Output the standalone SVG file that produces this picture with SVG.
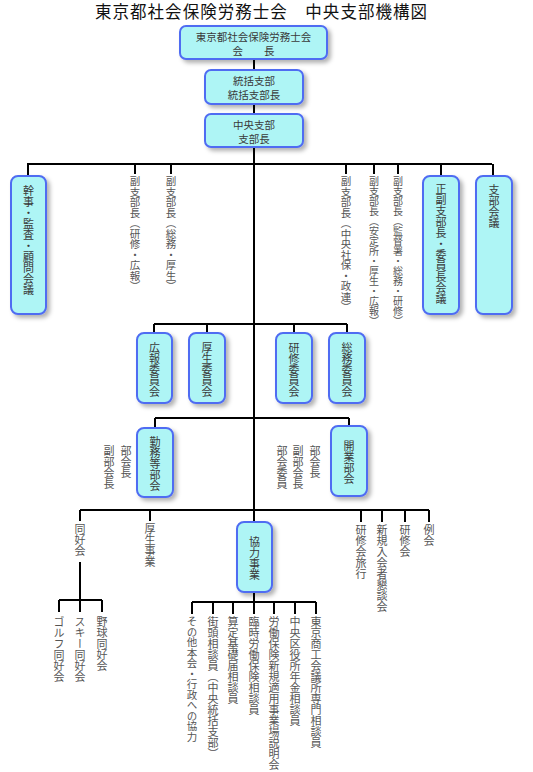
<svg xmlns="http://www.w3.org/2000/svg" width="533" height="772" viewBox="0 0 533 772">
<defs>
<filter id="sh" x="-30%" y="-30%" width="170%" height="170%">
<feDropShadow dx="3" dy="3" stdDeviation="2" flood-color="#000" flood-opacity="0.3"/>
</filter>
<style>
.box{fill:#aef5f5;stroke:#4f6cf2;stroke-width:2;filter:url(#sh)}
.bt{font-family:"Noto Sans CJK JP","Noto Sans CJK SC",sans-serif;font-size:10.5px;fill:#3a3a3a}
.ht{text-anchor:middle}
.vt{writing-mode:vertical-rl;font-family:"Noto Sans CJK JP","Noto Sans CJK SC",sans-serif;font-size:11px;fill:#3a3a3a}
.lb{fill:#555}
.sm{font-size:10.5px}
.xs{font-size:10px}
.ln{stroke:#000;stroke-width:2;fill:none}
.title{font-family:"Noto Sans CJK JP","Noto Sans CJK SC",sans-serif;font-size:16.5px;fill:#111}
</style>
</defs>
<rect width="533" height="772" fill="#fff"/>
<text class="title" x="95" y="18" textLength="332" lengthAdjust="spacing">東京都社会保険労務士会　中央支部機構図</text>

<g id="connectors">
<path class="ln" d="M254 59V70M254 104V114M254 147V522"/>
<path class="ln" d="M27 164H492M28 164V176M135 164V174M171 164V174M346 164V174M374 164V174M398 164V174M441 164V176M493 164V176"/>
<path class="ln" d="M154 324H347M154 324V333M207 324V333M294 324V333M347 324V333"/>
<path class="ln" d="M155 418H349M155 418V428M349 418V426"/>
<path class="ln" d="M80 510H429M80 510V521M150 510V521M361 510V522M382 510V522M405 510V522M429 510V522"/>
<path class="ln" d="M80 562V600M59 600H102M59 600V612M80 600V612M102 600V612"/>
<path class="ln" d="M254 592V602M192 602H316M192 602V614M213 602V614M233 602V614M254 602V614M274 602V614M295 602V614M316 602V614"/>
</g>

<g id="n-kaicho">
<rect class="box" x="180" y="26" width="147" height="33" rx="6"/>
<text class="bt ht" x="253.5" y="40.5">東京都社会保険労務士会</text>
<text class="bt ht" x="253.5" y="54.5" xml:space="preserve">会　　長</text>
</g>
<g id="n-tokatsu">
<rect class="box" x="205" y="70" width="98" height="34" rx="6"/>
<text class="bt ht" x="254" y="84.5">統括支部</text>
<text class="bt ht" x="254" y="98.5">統括支部長</text>
</g>
<g id="n-chuo">
<rect class="box" x="205" y="114" width="98" height="33" rx="6"/>
<text class="bt ht" x="254" y="128.5">中央支部</text>
<text class="bt ht" x="254" y="142.5">支部長</text>
</g>

<g id="n-kanji">
<rect class="box" x="11" y="176" width="35" height="138" rx="7"/>
<text class="vt" x="28.5" y="185">幹事・監査・顧問会議</text>
</g>
<g id="l-fuku1"><text class="vt lb sm" x="135" y="176">副支部長（研修・広報）</text></g>
<g id="l-fuku2"><text class="vt lb sm" x="171" y="176">副支部長（総務・厚生）</text></g>
<g id="l-fuku3"><text class="vt lb sm" x="346" y="176">副支部長（中央社保・政連）</text></g>
<g id="l-fuku4"><text class="vt lb xs" x="374" y="176">副支部長（安定所・厚生・広報）</text></g>
<g id="l-fuku5"><text class="vt lb xs" x="398" y="176">副支部長（監督署・総務・研修）</text></g>
<g id="n-seifuku">
<rect class="box" x="423" y="176" width="36" height="138" rx="7"/>
<text class="vt" x="441" y="183">正副支部長・委員長会議</text>
</g>
<g id="n-shibukaigi">
<rect class="box" x="476" y="176" width="36" height="138" rx="7"/>
<text class="vt" x="494" y="184">支部会議</text>
</g>

<g id="n-koho">
<rect class="box" x="137" y="333" width="35" height="70" rx="7"/>
<text class="vt" x="154.5" y="342">広報委員会</text>
</g>
<g id="n-kosei">
<rect class="box" x="189" y="333" width="36" height="70" rx="7"/>
<text class="vt" x="207" y="342">厚生委員会</text>
</g>
<g id="n-kenshu">
<rect class="box" x="276" y="333" width="36" height="70" rx="7"/>
<text class="vt" x="294" y="342">研修委員会</text>
</g>
<g id="n-somu">
<rect class="box" x="329" y="333" width="36" height="70" rx="7"/>
<text class="vt" x="347" y="342">総務委員会</text>
</g>

<g id="n-kinmu">
<rect class="box" x="137" y="428" width="36" height="69" rx="7"/>
<text class="vt" x="155" y="436">勤務等部会</text>
</g>
<g id="l-kinmu">
<text class="vt lb" x="126" y="445">部会長</text>
<text class="vt lb" x="109" y="445">副部会長</text>
</g>
<g id="n-kaigyo">
<rect class="box" x="331" y="426" width="36" height="70" rx="7"/>
<text class="vt" x="349" y="440">開業部会</text>
</g>
<g id="l-kaigyo">
<text class="vt lb" x="315" y="445">部会長</text>
<text class="vt lb" x="298" y="445">副部会長</text>
<text class="vt lb" x="282" y="445">部会委員</text>
</g>

<g id="l-dokokai"><text class="vt lb" x="80" y="523">同好会</text></g>
<g id="l-koseijigyo"><text class="vt lb" x="150" y="523">厚生事業</text></g>
<g id="n-kyoryoku">
<rect class="box" x="237" y="522" width="35" height="70" rx="7"/>
<text class="vt" x="254.5" y="536">協力事業</text>
</g>
<g id="l-ryoko"><text class="vt lb" x="361" y="524">研修会旅行</text></g>
<g id="l-shinki"><text class="vt lb" x="382" y="524">新規入会者懇談会</text></g>
<g id="l-kenshukai"><text class="vt lb" x="405" y="524">研修会</text></g>
<g id="l-reikai"><text class="vt lb" x="429" y="524">例会</text></g>

<g id="l-golf"><text class="vt lb" x="59" y="616">ゴルフ同好会</text></g>
<g id="l-ski"><text class="vt lb" x="80" y="616">スキー同好会</text></g>
<g id="l-yakyu"><text class="vt lb" x="102" y="616">野球同好会</text></g>

<g id="l-sonota"><text class="vt lb sm" x="192" y="616">その他本会・行政への協力</text></g>
<g id="l-gaito"><text class="vt lb" x="213" y="616">街頭相談員（中央統括支部）</text></g>
<g id="l-santei"><text class="vt lb" x="233" y="616">算定基礎届相談員</text></g>
<g id="l-rinji"><text class="vt lb" x="254" y="616">臨時労働保険相談員</text></g>
<g id="l-rodo"><text class="vt lb" x="274" y="616">労働保険新規適用事業場説明会</text></g>
<g id="l-kuyakusho"><text class="vt lb" x="295" y="616">中央区役所年金相談員</text></g>
<g id="l-shoko"><text class="vt lb" x="316" y="616">東京商工会議所専門相談員</text></g>
</svg>
